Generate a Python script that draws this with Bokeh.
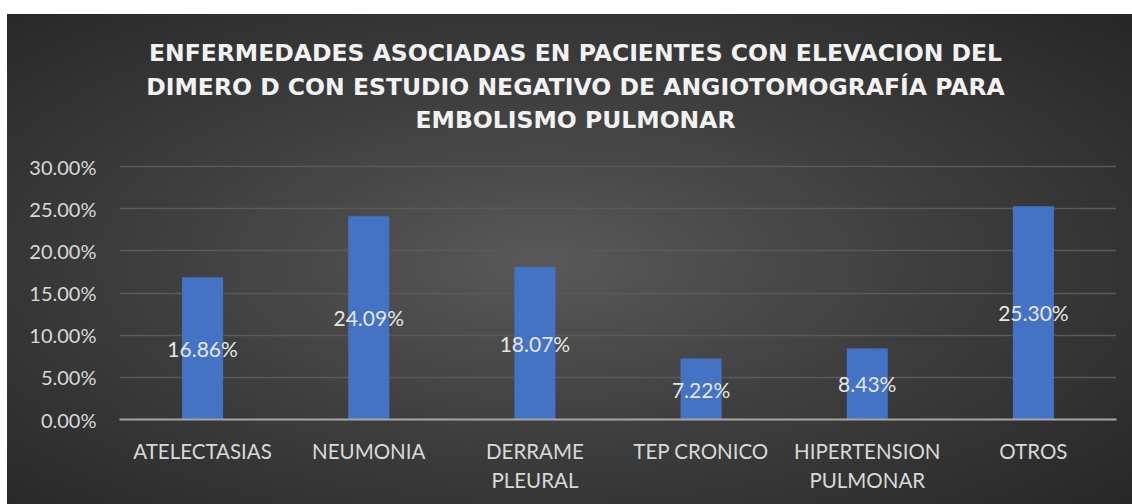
from bokeh.plotting import figure
from bokeh.models import FactorRange, Range1d, NumeralTickFormatter, ColumnDataSource
from bokeh.core.properties import value
from bokeh.embed import file_html
from bokeh.resources import INLINE

categories = ["ATELECTASIAS", "NEUMONIA", "DERRAME\nPLEURAL", "TEP CRONICO",
              "HIPERTENSION\nPULMONAR", "OTROS"]
percent_values = [0.1686, 0.2409, 0.1807, 0.0722, 0.0843, 0.2530]
label_texts = ["16.86%", "24.09%", "18.07%", "7.22%", "8.43%", "25.30%"]
title_lines = ["ENFERMEDADES ASOCIADAS EN PACIENTES CON ELEVACION DEL",
               "DIMERO D CON ESTUDIO NEGATIVO DE ANGIOTOMOGRAFÍA PARA",
               "EMBOLISMO PULMONAR"]
y_ticks = [0, 0.05, 0.10, 0.15, 0.20, 0.25, 0.30]

# geometry (pixels) used to extend the frame up so the title can be drawn inside it
FIG_W, FIG_H = 1132, 504
FRAME_L, FRAME_R, ZERO_Y, TOP_TICK_Y = 119, 1116, 419, 166
px_per_unit = (ZERO_Y - TOP_TICK_Y) / 0.30
y_end = ZERO_Y / px_per_unit
title_cx = (575 - FRAME_L) / (FRAME_R - FRAME_L) * len(categories)
title_ys = [(ZERO_Y - py) / px_per_unit for py in (52, 86, 119)]

src = ColumnDataSource(dict(cat=categories, val=percent_values,
                            mid=[v / 2 for v in percent_values], lab=label_texts))

p = figure(width=FIG_W, height=FIG_H, output_backend="svg", toolbar_location=None,
           x_range=FactorRange(*categories), y_range=Range1d(0, y_end),
           min_border_left=FRAME_L, min_border_right=FIG_W - FRAME_R, min_border_top=0,
           min_border_bottom=FIG_H - ZERO_Y)
p.background_fill_color = None
p.border_fill_color = None
p.outline_line_color = None
p.styles = {"background": "linear-gradient(#ffffff, #ffffff) top left / 100% 14px no-repeat, "
                          "linear-gradient(#ffffff, #ffffff) top left / 7px 100% no-repeat, "
                          "radial-gradient(ellipse farthest-corner at 48% 52%, #595959 0%, #3f3f3f 45%, #252525 100%)"}

font = "Lato"

p.text(x=[title_cx] * 3, y=title_ys, text=title_lines, text_align="center",
       text_baseline="middle", text_font=value("DejaVu Sans"), text_font_size="23.5px",
       text_font_style="bold", text_color="#f2f2f2")

p.vbar(x="cat", top="val", width=0.247, source=src, fill_color="#4472c4", line_color=None)
p.text(x="cat", y="mid", text="lab", source=src, text_align="center", text_baseline="middle",
       text_font=value(font), text_font_size="21px", text_color="#e6e6e6")

p.yaxis.formatter = NumeralTickFormatter(format="0.00%")
p.yaxis.ticker = y_ticks
p.yaxis.axis_line_color = None
p.yaxis.major_tick_line_color = None
p.yaxis.minor_tick_line_color = None
p.yaxis.major_tick_out = 0
p.yaxis.major_label_standoff = 23
p.yaxis.major_label_text_font = font
p.yaxis.major_label_text_font_size = "20px"
p.yaxis.major_label_text_color = "#d9d9d9"

p.xaxis.axis_line_color = "#a6a6a6"
p.xaxis.axis_line_width = 2
p.xaxis.major_tick_line_color = None
p.xaxis.major_tick_out = 0
p.xaxis.major_label_standoff = 19
p.xaxis.major_label_text_font = font
p.xaxis.major_label_text_font_size = "20.5px"
p.xaxis.major_label_text_color = "#d9d9d9"
p.xaxis.major_label_text_line_height = 1.22

p.xgrid.grid_line_color = None
p.ygrid.grid_line_color = "#5a5a5a"
p.ygrid.grid_line_width = 1.5

open("out.html", "w").write(file_html(p, INLINE))
